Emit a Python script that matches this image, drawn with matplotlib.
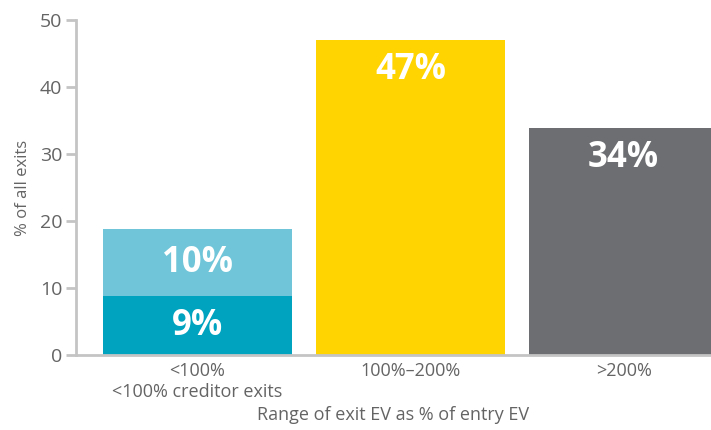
import matplotlib
matplotlib.use("Agg")
from matplotlib import pyplot as plt

categories = ["<100%\n<100% creditor exits", "100%\u2013200%", ">200%"]
creditor = [8.8, 0, 0]        # lower segment of first bar
other = [10.0, 47.0, 33.9]    # stacked on top
labels_low = ["9%", "", ""]
labels_top = ["10%", "47%", "34%"]

c_light = "#70c6d8"
c_teal = "#00a3bf"
c_yellow = "#ffd400"
c_gray = "#6d6e71"
top_colors = [c_light, c_yellow, c_gray]
grey_txt = "#646464"
spine_col = "#c4c4c4"

plt.rcParams['font.family'] = ['Open Sans', 'DejaVu Sans']

fig = plt.figure(figsize=(7.11, 4.30), dpi=100)
ax = fig.add_axes([0.107, 0.1744, 0.893, 0.7791])

x = range(len(categories))
ax.bar(x, creditor, width=0.89, color=c_teal)
ax.bar(x, other, width=0.89, bottom=creditor, color=top_colors)

for i in x:
    if labels_low[i]:
        ax.text(i, creditor[i] / 2, labels_low[i], ha="center", va="center",
                color="white", fontsize=25, fontweight="bold")
    total = creditor[i] + other[i]
    if i == 0:
        y = creditor[i] + other[i] / 2
    else:
        y = total - 4.5
    ax.text(i, y, labels_top[i], ha="center", va="center",
            color="white", fontsize=25, fontweight="bold")

ax.set_ylim(0, 50)
ax.set_xlim(-0.57, 2.41)
ax.set_yticks(range(0, 51, 10))
ax.set_xticks(list(x))
ax.set_xticklabels(categories)

for s in ["top", "right"]:
    ax.spines[s].set_visible(False)
for s in ["left", "bottom"]:
    ax.spines[s].set_color(spine_col)
    ax.spines[s].set_linewidth(2)

ax.tick_params(axis="y", colors=spine_col, length=7, width=2, labelsize=14,
               labelcolor=grey_txt, pad=3)
ax.tick_params(axis="x", length=0, labelsize=13, labelcolor=grey_txt, pad=5)

ax.set_ylabel("% of all exits", fontsize=12, color=grey_txt, labelpad=6)
ax.set_xlabel("Range of exit EV as % of entry EV", fontsize=13, color=grey_txt, labelpad=4)

plt.savefig("out.png", dpi=100)
